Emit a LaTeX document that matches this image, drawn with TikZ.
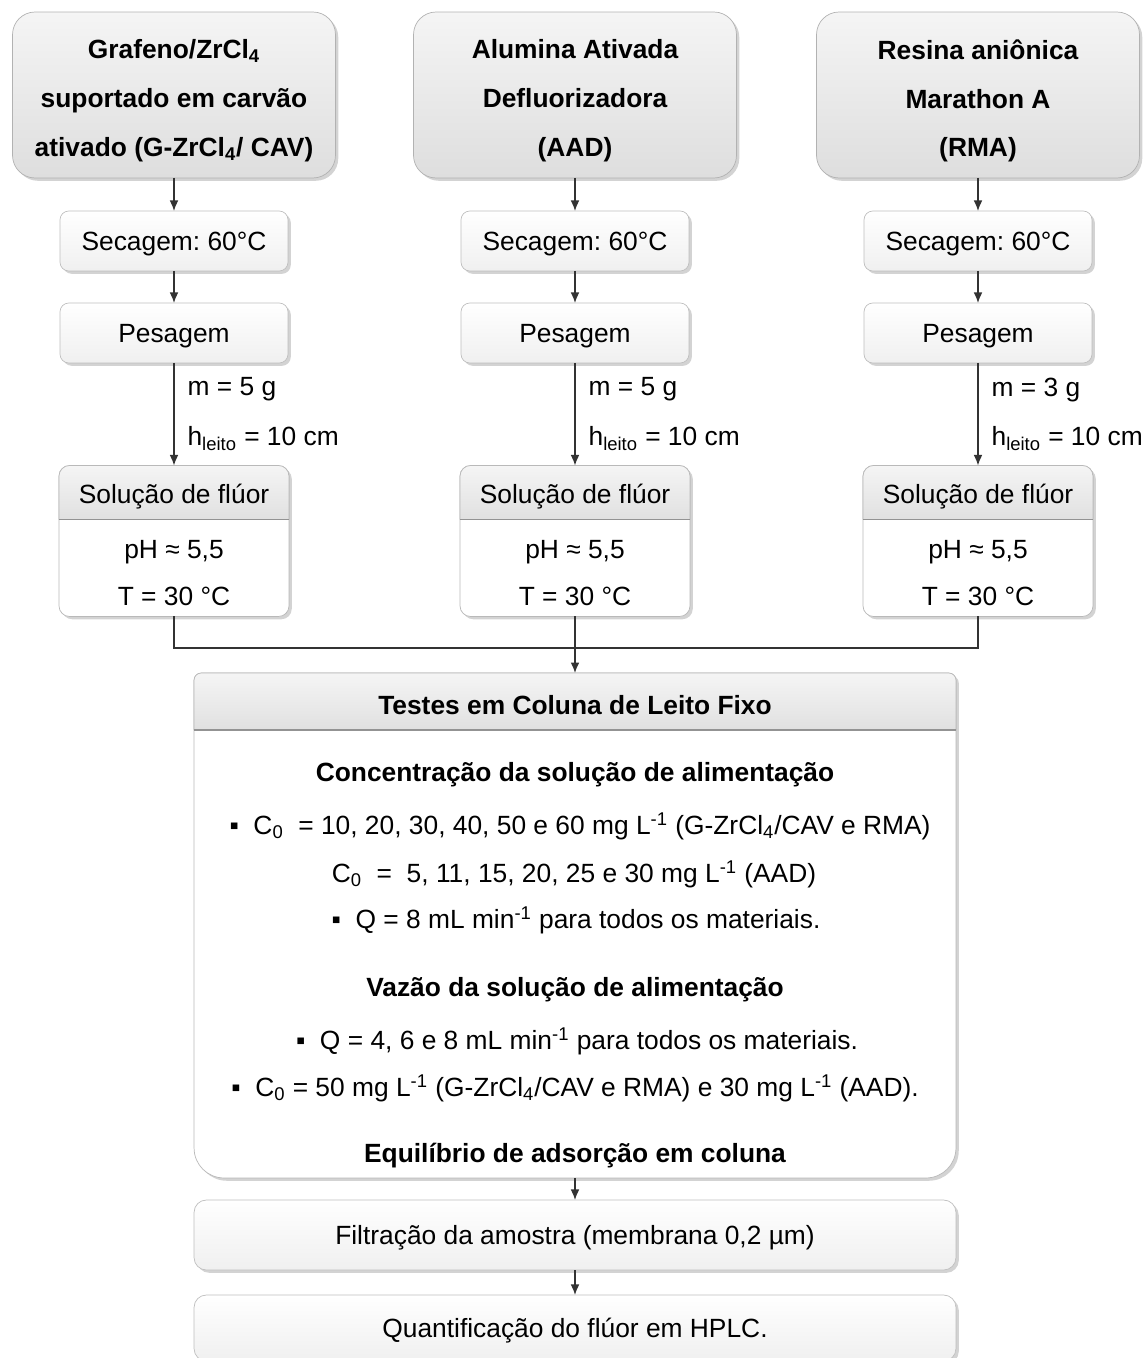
\documentclass[tikz,border=0pt]{standalone}
\usepackage{fontspec}
\setmainfont{Liberation Sans}
\usetikzlibrary{calc,shadows,arrows.meta}
\frenchspacing

\tikzset{
  myshadow/.style={drop shadow={shadow xshift=1.6pt, shadow yshift=-1.6pt, opacity=0.35}},
  matbox/.style={draw=gray!60, rounded corners=0.45cm, top color=gray!8, bottom color=gray!26,
    minimum width=6.46cm, minimum height=3.32cm, outer sep=0, myshadow},
  mattext/.style={align=center, font=\bfseries\fontsize{15}{27.8}\selectfont},
  stepbox/.style={draw=gray!50, rounded corners=5pt, top color=white, bottom color=gray!12,
    minimum width=4.56cm, minimum height=1.2cm, outer sep=0, text depth=0pt, myshadow},
  solbox/.style={draw=gray!55, fill=white, rounded corners=6pt, minimum width=4.6cm,
    minimum height=3.02cm, outer sep=0, myshadow},
  widebox/.style={draw=gray!50, rounded corners=7pt, top color=white, bottom color=gray!12,
    minimum width=15.24cm, outer sep=0, text depth=0pt, myshadow},
  headshade/.style={top color=gray!8, bottom color=gray!24},
  sepline/.style={draw=gray!85, line width=1pt},
  boxline/.style={draw=gray!55},
  bold/.style={font=\bfseries\fontsize{15}{18}\selectfont},
  arr/.style={-{Latex[length=6pt,width=5pt]}, draw=black!80, line width=0.8pt},
  conn/.style={draw=black!80, line width=0.8pt},
}

\begin{document}
\begin{tikzpicture}[x=0.02cm, y=-0.02cm, font=\fontsize{15}{18}\selectfont]
\useasboundingbox (0,0) rectangle (1145,1358);

% tres materiais: preparo ate a solucao
\foreach \c/\x/\ttl/\m in {1/174/{Grafeno/ZrCl\textsubscript{4}\\suportado em carvão\\ativado (G-ZrCl\textsubscript{4}/ CAV)}/5,
    2/575/{Alumina Ativada\\Defluorizadora\\(AAD)}/5,
    3/978/{Resina aniônica\\Marathon A\\(RMA)}/3}{
  \node[matbox] (mat\c) at (\x,95) {};
  \node[mattext] (matt\c) at (\x,101) {\ttl};
  \node[stepbox] (sec\c) at (\x,241) {Secagem: 60°C};
  \node[stepbox] (pes\c) at (\x,333) {Pesagem};
  \node[solbox] (sol\c) at (\x,541) {};
  \begin{scope}
    \clip[rounded corners=6pt] (sol\c.south west) rectangle (sol\c.north east);
    \shade[headshade] (sol\c.north west) rectangle ($(sol\c.north east)+(0,-1.08cm)$);
  \end{scope}
  \draw[boxline, rounded corners=6pt] ($(sol\c.north west)+(0,-1.08cm)$) |- (sol\c.north) -| ($(sol\c.north east)+(0,-1.08cm)$);
  \draw[sepline] ($(sol\c.north west)+(0,-1.08cm)$) -- ($(sol\c.north east)+(0,-1.08cm)$);
  \node (solh\c) at (\x,497) {Solução de flúor};
  \node[align=center, font=\fontsize{15}{27.2}\selectfont] (solb\c) at (\x,573) {pH ≈ 5,5\\T = 30 °C};
  \draw[arr] (mat\c) -- (sec\c);
  \draw[arr] (sec\c) -- (pes\c);
  \draw[arr] (pes\c) -- node[right, xshift=4, pos=0.5, align=left, font=\fontsize{15}{28.4}\selectfont]
    {m = \m\ g\\h\textsubscript{leito} = 10 cm} (sol\c);
}

% coluna de leito fixo
\node[minimum width=15.24cm, minimum height=10.1cm, inner sep=0, outer sep=0] (test) at (575,925.5) {};
\path[fill=white, boxline, myshadow] ($(test.north west)+(0,-4pt)$)
  -- ($(test.south west)+(0,17pt)$) arc[start angle=180, end angle=270, radius=17pt]
  -- ($(test.south east)+(-17pt,0)$) arc[start angle=270, end angle=360, radius=17pt]
  -- ($(test.north east)+(0,-4pt)$) arc[start angle=0, end angle=90, radius=4pt]
  -- ($(test.north west)+(4pt,0)$) arc[start angle=90, end angle=180, radius=4pt] -- cycle;
\begin{scope}
  \clip[rounded corners=4pt] (test.north west) rectangle ($(test.south east)+(0,2cm)$);
  \shade[headshade] (test.north west) rectangle ($(test.north east)+(0,-1.14cm)$);
\end{scope}
\draw[boxline, rounded corners=4pt] ($(test.north west)+(0,-1.14cm)$) |- (test.north) -| ($(test.north east)+(0,-1.14cm)$);
\draw[sepline] ($(test.north west)+(0,-1.14cm)$) -- ($(test.north east)+(0,-1.14cm)$);
\node[bold] (testh) at (575,705) {Testes em Coluna de Leito Fixo};

\node[bold] (conc) at (575,775) {Concentração da solução de alimentação};
\node (conc1) at (580,826) {▪\ \ C\textsubscript{0}\ \ = 10, 20, 30, 40, 50 e 60 mg L\textsuperscript{-1} (G-ZrCl\textsubscript{4}/CAV e RMA)};
\node (conc2) at (574,874) {C\textsubscript{0}\ \ =\ \ 5, 11, 15, 20, 25 e 30 mg L\textsuperscript{-1} (AAD)};
\node (conc3) at (576,920) {▪\ \ Q = 8 mL min\textsuperscript{-1} para todos os materiais.};
\node[bold] (vaz) at (575,990) {Vazão da solução de alimentação};
\node (vaz1) at (577,1041) {▪\ \ Q = 4, 6 e 8 mL min\textsuperscript{-1} para todos os materiais.};
\node (vaz2) at (575,1088) {▪\ \ C\textsubscript{0} = 50 mg L\textsuperscript{-1} (G-ZrCl\textsubscript{4}/CAV e RMA) e 30 mg L\textsuperscript{-1} (AAD).};
\node[bold] (equil) at (575,1156) {Equilíbrio de adsorção em coluna};

% analise
\node[widebox, minimum height=1.4cm] (filt) at (575,1235) {Filtração da amostra (membrana 0,2 µm)};
\node[widebox, minimum height=1.32cm] (quant) at (575,1328) {Quantificação do flúor em HPLC.};

% ligacoes
\coordinate (join) at (575,648);
\draw[conn] (sol1.south) |- (join) -| (sol3.south);
\draw[arr] (sol2.south) -- (test.north);
\draw[arr] (test.south) -- (filt);
\draw[arr] (filt) -- (quant);
\end{tikzpicture}
\end{document}
